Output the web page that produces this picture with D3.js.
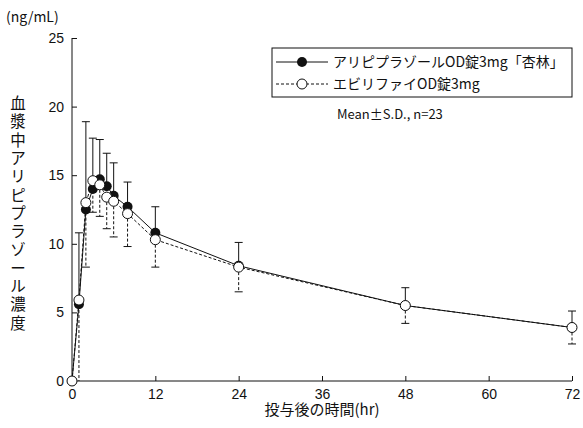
<!DOCTYPE html>
<html><head><meta charset="utf-8">
<script src="https://cdn.jsdelivr.net/npm/d3@7"></script>
<style>body{margin:0;background:#fff}text{font-family:"Noto Sans CJK JP","Noto Sans",sans-serif;fill:#111}</style>
</head><body><div id="chart"></div>
<script>
const hours = [0, 1, 2, 3, 4, 5, 6, 8, 12, 24, 48, 72];
const kyorinMean = [0, 5.6, 12.5, 14.0, 14.7, 14.2, 13.5, 12.7, 10.8, 8.4, 5.5, 3.9];
const kyorinUpper = [0, 10.8, 18.9, 17.7, 17.6, 16.6, 15.9, 14.5, 12.7, 10.1, 6.8, 5.1];
const abilifyMean = [0, 5.9, 13.0, 14.6, 14.3, 13.4, 13.1, 12.2, 10.3, 8.3, 5.5, 3.9];
const abilifyLower = [0, 0, 8.3, 12.3, 12.0, 11.1, 10.5, 9.8, 8.3, 6.5, 4.2, 2.7];
const xTicks = [0, 12, 24, 36, 48, 60, 72];
const yTicks = [0, 5, 10, 15, 20, 25];

const width = 583, height = 428;
const svg = d3.select("#chart").append("svg").attr("width", width).attr("height", height);
const x = d3.scaleLinear().domain([0, 72]).range([72, 572]);
const y = d3.scaleLinear().domain([0, 25]).range([381, 38]);

// axes
svg.append("g").attr("transform", "translate(0,381)")
  .call(d3.axisBottom(x).tickValues(xTicks).tickSize(-5).tickPadding(8))
  .call(g => g.select(".domain").attr("d", "M72,0H572"));
svg.append("g").attr("transform", "translate(72,0)")
  .call(d3.axisLeft(y).tickValues(yTicks).tickSize(-5).tickPadding(8))
  .call(g => g.select(".domain").attr("d", "M0,381V38"));
svg.selectAll(".tick text").attr("font-size", 14).style("font-family", "'Liberation Sans',Arial,sans-serif");
svg.selectAll(".domain,.tick line").attr("stroke", "#111");

svg.append("text").attr("x", 6).attr("y", 22).attr("font-size", 14).text("(ng/mL)");
svg.append("text").attr("x", 322).attr("y", 415).attr("font-size", 15).attr("text-anchor", "middle").text("投与後の時間(hr)");
const ylab = "血漿中アリピプラゾール濃度";
svg.append("g").selectAll("text").data(ylab.split("")).join("text")
  .attr("x", 18).attr("y", (d, i) => 109 + i * 18.3).attr("font-size", 15.5).attr("text-anchor", "middle").text(d => d);

// error bars
function bars(vals, ends, dash) {
  const g = svg.append("g").attr("stroke", "#111").attr("stroke-width", 1);
  hours.forEach((h, i) => {
    if (h === 0) return;
    g.append("line").attr("x1", x(h)).attr("x2", x(h)).attr("y1", y(vals[i])).attr("y2", y(ends[i])).attr("stroke-dasharray", dash);
    if (ends[i] > 0) g.append("line").attr("x1", x(h) - 4).attr("x2", x(h) + 4).attr("y1", y(ends[i])).attr("y2", y(ends[i]));
  });
}
bars(kyorinMean, kyorinUpper, null);
bars(abilifyMean, abilifyLower, "3,2");

const line = d3.line().x((d, i) => x(hours[i])).y(d => y(d));
svg.append("path").attr("d", line(abilifyMean)).attr("fill", "none").attr("stroke", "#111").attr("stroke-dasharray", "3,2");
svg.append("path").attr("d", line(kyorinMean)).attr("fill", "none").attr("stroke", "#111");
svg.append("g").selectAll("circle").data(kyorinMean).join("circle")
  .attr("cx", (d, i) => x(hours[i])).attr("cy", d => y(d)).attr("r", 5).attr("fill", "#111");
svg.append("g").selectAll("circle").data(abilifyMean).join("circle")
  .attr("cx", (d, i) => x(hours[i])).attr("cy", d => y(d)).attr("r", 5).attr("fill", "#fff").attr("stroke", "#111");

// legend
const lg = svg.append("g");
lg.append("rect").attr("x", 272).attr("y", 48).attr("width", 300).attr("height", 49).attr("fill", "#fff").attr("stroke", "#111");
lg.append("line").attr("x1", 276).attr("x2", 328).attr("y1", 62).attr("y2", 62).attr("stroke", "#111");
lg.append("circle").attr("cx", 302).attr("cy", 62).attr("r", 5).attr("fill", "#111");
lg.append("text").attr("x", 333).attr("y", 67).attr("font-size", 14).text("アリピプラゾールOD錠3mg「杏林」");
lg.append("line").attr("x1", 276).attr("x2", 328).attr("y1", 84).attr("y2", 84).attr("stroke", "#111").attr("stroke-dasharray", "3,2");
lg.append("circle").attr("cx", 302).attr("cy", 84).attr("r", 5).attr("fill", "#fff").attr("stroke", "#111");
lg.append("text").attr("x", 333).attr("y", 89).attr("font-size", 14).text("エビリファイOD錠3mg");
svg.append("text").attr("x", 337).attr("y", 119).attr("font-size", 13).text("Mean±S.D., n=23");
</script></body></html>
